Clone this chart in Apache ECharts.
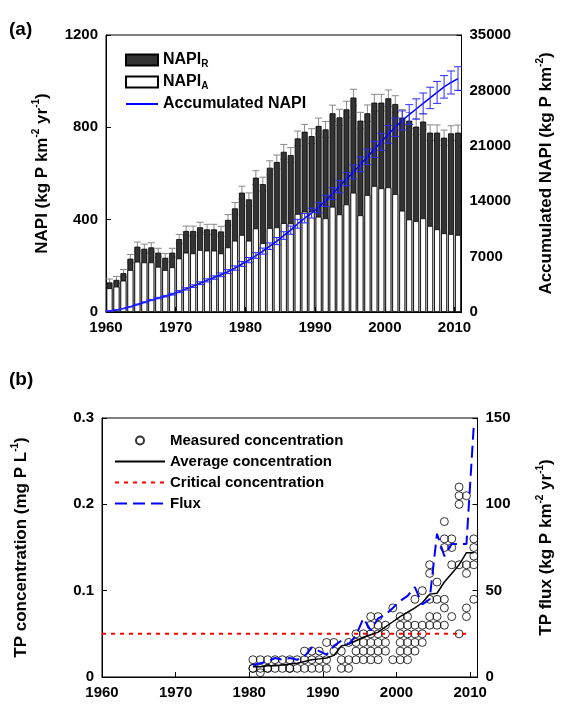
<!DOCTYPE html>
<html>
<head>
<meta charset="utf-8">
<script src="https://cdn.jsdelivr.net/npm/echarts@6/dist/echarts.min.js"></script>
<style>
  html, body { margin: 0; padding: 0; background: #fff; }
  #chart { width: 563px; height: 707px; }
</style>
</head>
<body>
<div id="chart"></div>
<script>
// ---- (a) NAPI, 1960-2010 ----
const years = []
for (let y = 1960; y <= 2010; y++) years.push(y)

const napiA = [
  103, 110, 136, 182, 218, 215, 215, 196, 182, 194,
  232, 257, 254, 269, 266, 266, 254, 280, 309, 334,
  309, 362, 298, 364, 367, 385, 384, 425, 435, 435,
  413, 406, 456, 423, 466, 517, 419, 507, 546, 536,
  540, 511, 439, 401, 394, 406, 373, 358, 341, 338, 334
]
const napiR = [
  25, 29, 32, 49, 65, 59, 65, 61, 53, 63,
  84, 94, 97, 98, 92, 92, 95, 119, 140, 183,
  179, 220, 256, 261, 283, 309, 296, 327, 346, 327,
  393, 385, 405, 420, 412, 412, 410, 354, 361, 371,
  386, 390, 403, 428, 409, 419, 404, 419, 414, 436, 443
]
const napiErr = [
  15, 15, 16, 18, 20, 20, 20, 19, 18, 19,
  20, 21, 21, 22, 22, 22, 22, 23, 25, 28,
  28, 30, 30, 30, 30, 32, 32, 32, 32, 32,
  34, 34, 35, 35, 35, 36, 36, 36, 36, 36,
  36, 36, 35, 35, 34, 34, 34, 33, 33, 33, 33
]
const accNapi = [
  128, 267, 435, 666, 949, 1223, 1503, 1760, 1995, 2252,
  2568, 2919, 3270, 3637, 3995, 4353, 4702, 5101, 5550, 6067,
  6555, 7137, 7691, 8316, 8966, 9660, 10340, 11150, 11850, 12500,
  13200, 14050, 14950, 15850, 16800, 17700, 18650, 19600, 20550, 21500,
  22450, 23350, 24200, 24950, 25650, 26350, 27050, 27750, 28450, 29000, 29500
]
const accErr = [
  6, 13, 22, 33, 47, 61, 75, 88, 100, 113,
  128, 146, 164, 182, 200, 218, 235, 255, 278, 303,
  328, 357, 385, 416, 448, 483, 517, 557, 593, 625,
  660, 703, 748, 793, 840, 885, 933, 980, 1028, 1075,
  1123, 1168, 1210, 1248, 1283, 1318, 1353, 1388, 1423, 1455, 1490
]

// ---- (b) TP, 1980-2010 ----
const tpYears = []
for (let y = 1980; y <= 2010; y++) tpYears.push(y)

const measuredTP = [
  [0.01, 0.02, 0.01], [0.01, 0.02, 0.005], [0.01, 0.02, 0.01], [0.01, 0.02], [0.01, 0.02],
  [0.01, 0.02, 0.01], [0.01, 0.02], [0.01, 0.02, 0.03], [0.01, 0.02, 0.03], [0.01, 0.02, 0.03],
  [0.01, 0.02, 0.04], [0.03, 0.04], [0.01, 0.02, 0.03], [0.01, 0.02, 0.04], [0.02, 0.03, 0.04, 0.05],
  [0.02, 0.03, 0.04, 0.05], [0.02, 0.03, 0.04, 0.05, 0.06, 0.07], [0.02, 0.03, 0.04, 0.05, 0.06, 0.07],
  [0.03, 0.04, 0.05, 0.06], [0.02, 0.08], [0.02, 0.03, 0.04, 0.05, 0.06, 0.07],
  [0.02, 0.03, 0.04, 0.05, 0.06, 0.07], [0.03, 0.04, 0.05, 0.06, 0.09], [0.04, 0.05, 0.06, 0.10],
  [0.06, 0.07, 0.09, 0.12, 0.13], [0.06, 0.07, 0.09, 0.11], [0.06, 0.08, 0.09, 0.15, 0.16, 0.18],
  [0.07, 0.13, 0.15, 0.16], [0.05, 0.13, 0.20, 0.21, 0.22], [0.07, 0.08, 0.12, 0.13, 0.21],
  [0.09, 0.13, 0.14, 0.15, 0.16]
]
const avgTP = [
  0.012, 0.012, 0.013, 0.013, 0.014, 0.015, 0.016, 0.018, 0.020, 0.021,
  0.022, 0.025, 0.036, 0.038, 0.042, 0.046, 0.049, 0.052, 0.058, 0.064,
  0.070, 0.075, 0.080, 0.086, 0.096, 0.097, 0.110, 0.120, 0.130, 0.144, 0.144
]
const fluxTP = [
  7, 8, 9, 11, 10, 11, 10, 12, 17, 15,
  13, 18, 21, 19, 24, 34, 27, 34, 36, 40,
  44, 47, 52, 42, 45, 83, 70, 77, 77, 77, 146
]
const criticalTP = 0.05
const criticalSpan = [1960, 2010]

const FONT = 'Liberation Sans, Arial, sans-serif'
const txt = { fontFamily: FONT, fontWeight: 'bold', color: '#000' }

// error bar drawn through the axes
function errBar(color, half) {
  return function (params, api) {
    const x = api.value(0)
    const hi = api.coord([x, api.value(2)])
    const lo = api.coord([x, api.value(1)])
    const style = { stroke: color, lineWidth: 1 }
    return {
      type: 'group',
      children: [
        { type: 'line', shape: { x1: hi[0], y1: hi[1], x2: lo[0], y2: lo[1] }, style },
        { type: 'line', shape: { x1: hi[0] - half, y1: hi[1], x2: hi[0] + half, y2: hi[1] }, style },
        { type: 'line', shape: { x1: lo[0] - half, y1: lo[1], x2: lo[0] + half, y2: lo[1] }, style }
      ]
    }
  }
}

const axisBase = {
  axisLine: { show: true, lineStyle: { color: '#000', width: 1 } },
  axisTick: { show: true, inside: true, length: 5, lineStyle: { color: '#000' } },
  splitLine: { show: false },
  axisLabel: { ...txt, fontSize: 15, margin: 8, formatter: v => String(v) }
}
const nameRich = {
  n: { ...txt, fontSize: 17, lineHeight: 22 },
  p: { ...txt, fontSize: 10, lineHeight: 22, verticalAlign: 'top' }
}
const yearLabel = { ...axisBase.axisLabel, showMaxLabel: false, formatter: v => v % 10 === 0 ? String(v) : '' }

const mid = years.map(y => y + 0.5)
const tpMid = tpYears.map(y => y + 0.5)
const napiTotal = napiA.map((a, i) => a + napiR[i])
const scatterData = []
measuredTP.forEach((vals, i) => vals.forEach(v => scatterData.push([tpMid[i], v])))

const noSymbol = { itemStyle: { opacity: 0 } }

const option = {
  animation: false,
  backgroundColor: '#fff',
  textStyle: { fontFamily: FONT },
  graphic: [
    { type: 'text', left: 9, top: 20, style: { text: '(a)', font: 'bold 19px ' + FONT, fill: '#000' } },
    { type: 'text', left: 9, top: 370, style: { text: '(b)', font: 'bold 19px ' + FONT, fill: '#000' } }
  ],
  grid: [
    { left: 106, right: 97, top: 35, height: 277, show: true, borderColor: '#000', borderWidth: 1 },
    { left: 102, right: 79, top: 418, height: 259, show: true, borderColor: '#000', borderWidth: 1 }
  ],
  legend: [
    {
      left: 120, top: 47, orient: 'vertical', itemWidth: 32, itemHeight: 11, itemGap: 5,
      data: [
        { name: 'NAPI_R', icon: 'rect' },
        { name: 'NAPI_A', icon: 'rect' },
        { name: 'Accumulated NAPI', ...noSymbol }
      ],
      formatter: name => name === 'NAPI_R' ? '{m|NAPI}{s|R}' : name === 'NAPI_A' ? '{m|NAPI}{s|A}' : '{m|' + name + '}',
      textStyle: {
        rich: {
          m: { ...txt, fontSize: 16, lineHeight: 18 },
          s: { ...txt, fontSize: 10, lineHeight: 18, verticalAlign: 'bottom' }
        }
      }
    },
    {
      left: 109, top: 427, orient: 'vertical', itemWidth: 50, itemHeight: 8, itemGap: 4,
      data: [
        'Measured concentration',
        { name: 'Average concentration', ...noSymbol },
        { name: 'Critical concentration', ...noSymbol },
        { name: 'Flux', ...noSymbol }
      ],
      textStyle: { ...txt, fontSize: 15, lineHeight: 17 }
    }
  ],
  xAxis: [
    { ...axisBase, type: 'value', gridIndex: 0, min: 1960, max: 2011, interval: 10, axisLabel: yearLabel },
    { ...axisBase, type: 'value', gridIndex: 1, min: 1960, max: 2011, interval: 10, axisLabel: yearLabel }
  ],
  yAxis: [
    {
      ...axisBase, type: 'value', gridIndex: 0, min: 0, max: 1200, interval: 400,
      name: '{n|NAPI (kg P km}{p|-2}{n| yr}{p|-1}{n|)}', nameLocation: 'middle', nameGap: 53, nameRotate: 90,
      nameTextStyle: { rich: nameRich }
    },
    {
      ...axisBase, type: 'value', gridIndex: 0, min: 0, max: 35000, interval: 7000, position: 'right',
      name: '{n|Accumulated NAPI (kg P km}{p|-2}{n|)}', nameLocation: 'middle', nameGap: 74, nameRotate: 90,
      nameTextStyle: { rich: nameRich }
    },
    {
      ...axisBase, type: 'value', gridIndex: 1, min: 0, max: 0.3, interval: 0.1,
      name: '{n|TP concentration (mg P L}{p|-1}{n|)}', nameLocation: 'middle', nameGap: 70, nameRotate: 90,
      nameTextStyle: { rich: nameRich }
    },
    {
      ...axisBase, type: 'value', gridIndex: 1, min: 0, max: 150, interval: 50, position: 'right',
      name: '{n|TP flux (kg P km}{p|-2}{n| yr}{p|-1}{n|)}', nameLocation: 'middle', nameGap: 58, nameRotate: 90,
      nameTextStyle: { rich: nameRich }
    }
  ],
  series: [
    {
      name: 'NAPI err', type: 'custom', xAxisIndex: 0, yAxisIndex: 0, z: 1,
      renderItem: errBar('#888', 3.5), encode: { x: 0, y: [1, 2] },
      data: mid.map((x, i) => [x, napiTotal[i] - napiErr[i], napiTotal[i] + napiErr[i]])
    },
    // NAPI_R sits on top of NAPI_A: the dark bar reaches the total, the white bar covers its lower part
    {
      name: 'NAPI_R', type: 'bar', xAxisIndex: 0, yAxisIndex: 0, barWidth: 6, barGap: '-100%', z: 2,
      itemStyle: { color: '#333', borderColor: '#000', borderWidth: 0.8 },
      data: mid.map((x, i) => [x, napiTotal[i]])
    },
    {
      name: 'NAPI_A', type: 'bar', xAxisIndex: 0, yAxisIndex: 0, barWidth: 6, barGap: '-100%', z: 3,
      itemStyle: { color: '#fff', borderColor: '#000', borderWidth: 0.8 },
      data: mid.map((x, i) => [x, napiA[i]])
    },
    {
      name: 'Accumulated NAPI', type: 'line', xAxisIndex: 0, yAxisIndex: 1, z: 4,
      symbol: 'none', lineStyle: { color: '#0000ff', width: 1.5 }, itemStyle: { color: '#0000ff' },
      data: [[1960, 0]].concat(mid.map((x, i) => [x, accNapi[i]]))
    },
    {
      name: 'Acc err', type: 'custom', xAxisIndex: 0, yAxisIndex: 1, z: 5,
      renderItem: errBar('#2a2aff', 4), encode: { x: 0, y: [1, 2] },
      data: mid.map((x, i) => [x, accNapi[i] - accErr[i], accNapi[i] + accErr[i]])
    },
    {
      name: 'Critical concentration', type: 'line', xAxisIndex: 1, yAxisIndex: 2, symbol: 'none',
      lineStyle: { color: '#ff0000', width: 2, type: [4, 5] }, itemStyle: { color: '#ff0000' },
      data: criticalSpan.map(x => [x, criticalTP])
    },
    {
      name: 'Measured concentration', type: 'scatter', xAxisIndex: 1, yAxisIndex: 2, symbol: 'circle', symbolSize: 8,
      itemStyle: { color: 'rgba(0,0,0,0)', borderColor: '#000', borderWidth: 1 },
      data: scatterData
    },
    {
      name: 'Average concentration', type: 'line', xAxisIndex: 1, yAxisIndex: 2, symbol: 'none',
      lineStyle: { color: '#000', width: 1.5 }, itemStyle: { color: '#000' },
      data: tpMid.map((x, i) => [x, avgTP[i]])
    },
    {
      name: 'Flux', type: 'line', xAxisIndex: 1, yAxisIndex: 3, symbol: 'none',
      lineStyle: { color: '#0000ff', width: 2, type: [12, 6] }, itemStyle: { color: '#0000ff' },
      data: tpMid.map((x, i) => [x, fluxTP[i]])
    }
  ]
}

const chart = echarts.init(document.getElementById('chart'), null, { renderer: 'canvas' })
chart.setOption(option)
</script>
</body>
</html>
